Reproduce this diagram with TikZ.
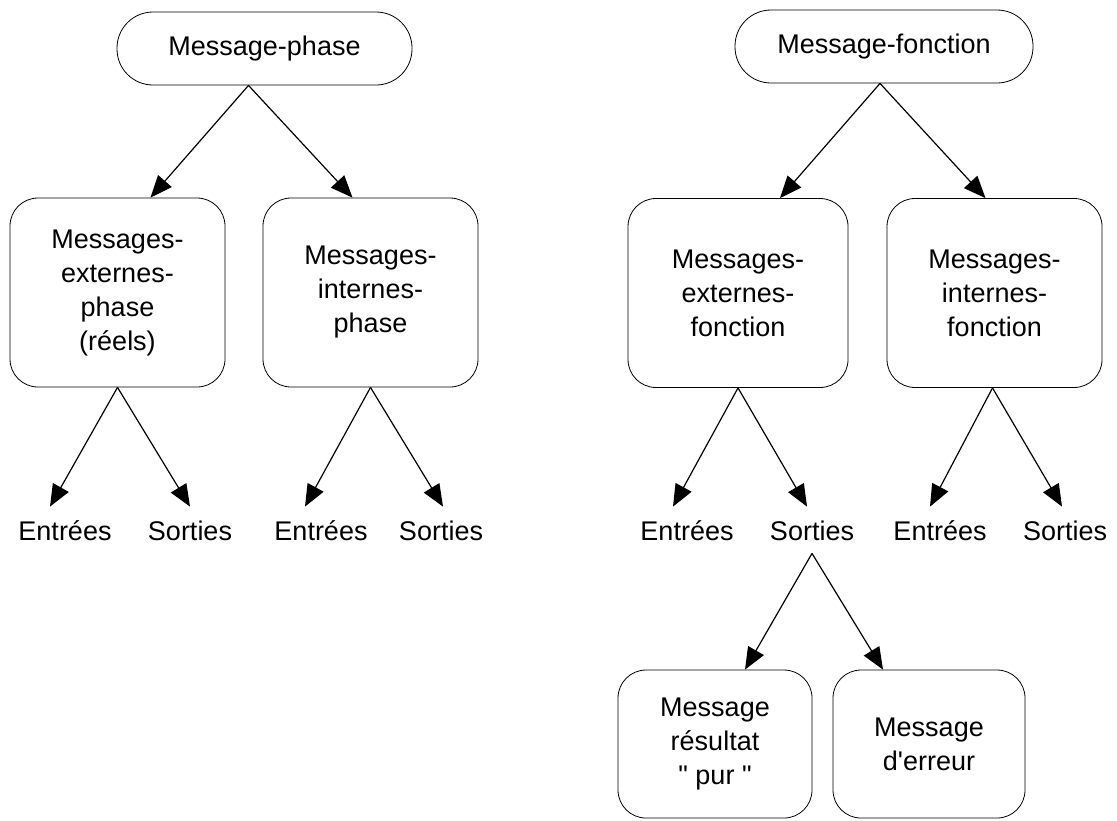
\documentclass[tikz,border=0pt]{standalone}
\usepackage{fontspec}
\setmainfont{Liberation Sans}
\usetikzlibrary{arrows.meta}

\begin{document}
\begin{tikzpicture}[x=0.5pt,y=-0.5pt,
  every node/.style={font=\fontsize{13.5}{17}\selectfont},
  pill/.style={draw,rounded corners=18pt,minimum width=147.5pt,minimum height=36.5pt,inner sep=0pt},
  box/.style={draw,rounded corners=14pt,align=center,inner sep=0pt,minimum height=94.5pt},
  leaf/.style={anchor=base,inner sep=0pt,text height=16.5pt,text depth=6.5pt},
  arr/.style={-{Triangle[length=11pt,width=9pt]},line width=0.6pt}]
\useasboundingbox (0,0) rectangle (1117,820);
\node[pill] (mphase) at (264.5,48.5) {Message-phase};
\node[pill,minimum width=149pt] (mfonc) at (884,46.5) {Message-fonction};
\node[box,minimum width=107.5pt] (extph) at (117.5,292.5) {Messages-\\externes-\\phase\\(réels)};
\node[box,minimum width=107.5pt] (intph) at (370.5,292.5) {Messages-\\internes-\\phase};
\node[box,minimum width=110pt] (extfn) at (738,293) {Messages-\\externes-\\fonction};
\node[box,minimum width=107.5pt] (intfn) at (994.5,293) {Messages-\\internes-\\fonction};
\node[leaf] (ent1) at (65,540) {Entrées};
\node[leaf] (sor1) at (190,540) {Sorties};
\node[leaf] (ent2) at (321,540) {Entrées};
\node[leaf] (sor2) at (441,540) {Sorties};
\node[leaf] (ent3) at (687,540) {Entrées};
\node[leaf] (sor3) at (812,540) {Sorties};
\node[leaf] (ent4) at (940,540) {Entrées};
\node[leaf] (sor4) at (1065,540) {Sorties};
\node[box,minimum width=97pt,minimum height=74pt] (respur) at (715,744) {Message\\résultat\\\textquotedbl\ pur \textquotedbl};
\node[box,minimum width=96pt,minimum height=74pt] (errmsg) at (929,744) {Message\\d\textquotesingle erreur};
\draw[arr] ([xshift=-8pt]mphase.south) -- ([xshift=16.5pt]extph.north);
\draw[arr] ([xshift=-8pt]mphase.south) -- ([xshift=-9pt]intph.north);
\draw[arr] ([xshift=-2pt]mfonc.south) -- ([xshift=21pt]extfn.north);
\draw[arr] ([xshift=-2pt]mfonc.south) -- ([xshift=-4.5pt]intfn.north);
\draw[arr] (extph.south) -- ([xshift=-7.5pt]ent1.north);
\draw[arr] (extph.south) -- (sor1.north);
\draw[arr] (intph.south) -- ([xshift=-8pt]ent2.north);
\draw[arr] (intph.south) -- ([xshift=1pt]sor2.north);
\draw[arr] (extfn.south) -- ([xshift=-7pt]ent3.north);
\draw[arr] (extfn.south) -- ([xshift=-2.5pt]sor3.north);
\draw[arr] ([xshift=-1pt]intfn.south) -- ([xshift=-5pt]ent4.north);
\draw[arr] ([xshift=-1pt]intfn.south) -- ([xshift=-1.5pt]sor4.north);
\draw[arr] (sor3.south) -- ([xshift=15pt]respur.north);
\draw[arr] (sor3.south) -- ([xshift=-23pt]errmsg.north);
\end{tikzpicture}
\end{document}
